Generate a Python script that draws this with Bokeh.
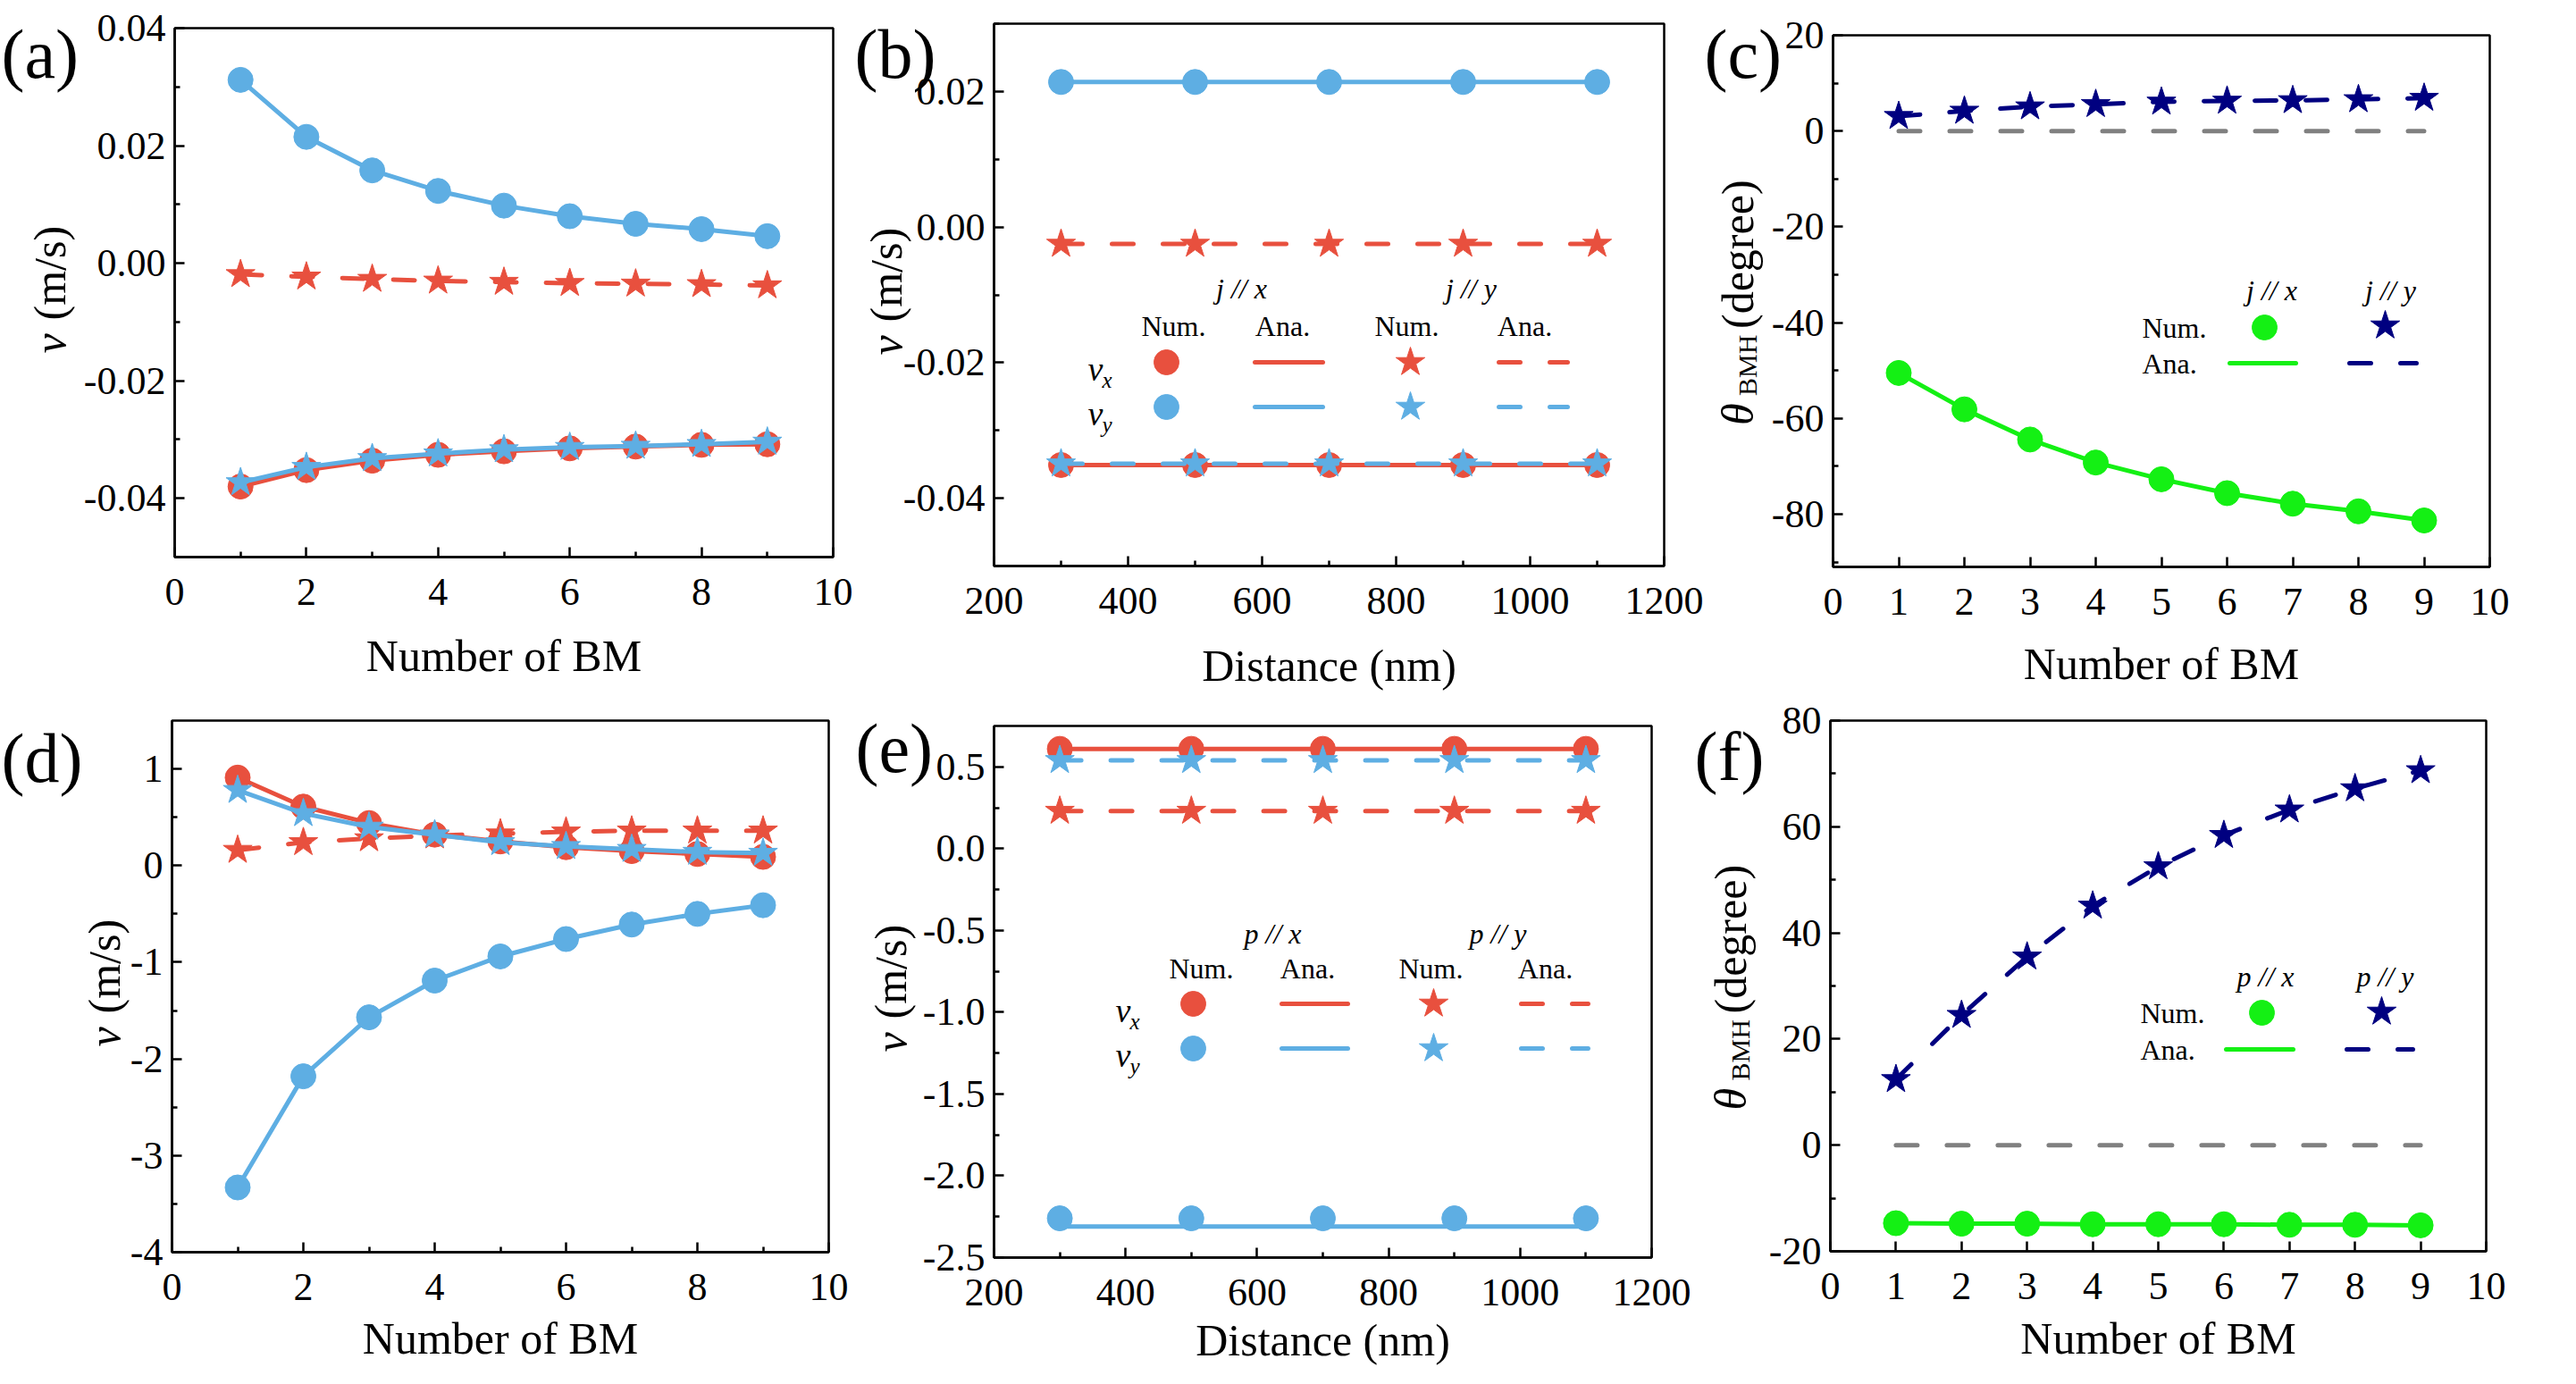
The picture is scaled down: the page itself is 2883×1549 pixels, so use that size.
from math import pi
from bokeh.plotting import figure
from bokeh.models import Range1d, FixedTicker, PrintfTickFormatter, Label, LinearAxis, BoxAnnotation
from bokeh.layouts import column, row
from bokeh.embed import file_html
from bokeh.resources import INLINE

FONT = "Liberation Serif"
RED = "#E8503E"
BLUE = "#5EAEE3"
GREEN = "#14F014"
NAVY = "#000080"
GRAY = "#808080"

# ---------------- data ----------------
n_bm = [1, 2, 3, 4, 5, 6, 7, 8, 9]
distance = [300, 500, 700, 900, 1100]

# (a) current-driven velocities vs number of BM
a_vx_jx = [-0.0380, -0.0352, -0.0336, -0.0326, -0.0320, -0.0315, -0.0312, -0.0309, -0.0308]
a_vy_jx = [0.0312, 0.0215, 0.0158, 0.0123, 0.0098, 0.0080, 0.0067, 0.0058, 0.0046]
a_vx_jy = [-0.0019, -0.0023, -0.0027, -0.0030, -0.0032, -0.0034, -0.0035, -0.0036, -0.0038]
a_vy_jy = [-0.0373, -0.0347, -0.0332, -0.0324, -0.0317, -0.0313, -0.0311, -0.0308, -0.0304]

# (b) current-driven velocities vs distance
b_vx_jx = [-0.0351, -0.0351, -0.0351, -0.0351, -0.0351]
b_vy_jx = [0.0214, 0.0214, 0.0214, 0.0214, 0.0214]
b_vx_jy = [-0.0025, -0.0025, -0.0025, -0.0025, -0.0025]
b_vy_jy = [-0.0349, -0.0349, -0.0349, -0.0349, -0.0349]

# (c) Hall angle (current)
c_theta_jx = [-50.5, -58.1, -64.4, -69.2, -72.7, -75.6, -77.8, -79.4, -81.3]
c_theta_jy = [3.1, 4.2, 5.1, 5.6, 6.1, 6.3, 6.4, 6.6, 6.9]
zero_ref = [0, 0, 0, 0, 0, 0, 0, 0, 0]

# (d) polarization-driven velocities vs number of BM
d_vx_px = [0.91, 0.61, 0.44, 0.32, 0.25, 0.19, 0.15, 0.12, 0.09]
d_vy_px = [-3.33, -2.18, -1.57, -1.19, -0.94, -0.76, -0.61, -0.50, -0.41]
d_vx_py = [0.16, 0.24, 0.28, 0.31, 0.33, 0.35, 0.36, 0.36, 0.36]
d_vy_py = [0.78, 0.54, 0.40, 0.32, 0.24, 0.20, 0.17, 0.14, 0.13]

# (e) polarization-driven velocities vs distance
e_vx_px = [0.61, 0.61, 0.61, 0.61, 0.61]
e_vy_px_num = [-2.26, -2.26, -2.26, -2.26, -2.26]
e_vy_px_ana = [-2.31, -2.31, -2.31, -2.31, -2.31]
e_vx_py = [0.23, 0.23, 0.23, 0.23, 0.23]
e_vy_py = [0.54, 0.54, 0.54, 0.54, 0.54]

# (f) Hall angle (polarization)
f_theta_px = [-14.7, -14.8, -14.8, -14.9, -14.9, -14.9, -15.0, -15.0, -15.1]
f_theta_py = [12.4, 24.5, 35.5, 45.1, 52.5, 58.4, 63.2, 67.2, 70.6]

# tick values
bm_ticks_even = [0, 2, 4, 6, 8, 10]
bm_minor_odd = [1, 3, 5, 7, 9]
bm_ticks_all = [0, 1, 2, 3, 4, 5, 6, 7, 8, 9, 10]
dist_ticks = [200, 400, 600, 800, 1000, 1200]
dist_minor = [300, 500, 700, 900, 1100]

DASH = "24 33"
SHIFT = 0.16   # baseline correction (fraction of font size) for alphabetic labels


def style_axis(ax):
    ax.axis_line_width = 2.5
    ax.axis_line_color = "black"
    ax.major_tick_in = 11
    ax.major_tick_out = 0
    ax.minor_tick_in = 6
    ax.minor_tick_out = 0
    ax.major_tick_line_width = 2.5
    ax.minor_tick_line_width = 2.5
    ax.major_label_text_font = FONT
    ax.major_label_text_font_size = "44px"
    ax.major_label_text_color = "black"


class Panel:
    def __init__(self, cell, box, xr, yr, xt, xmt, yt, ymt, xfmt, yfmt, xlabel, xlabel_off):
        cx, cy, cw, ch = cell
        L, R, T, B = box
        x0, x1 = xr
        y0, y1 = yr
        sx = (x1 - x0) / (R - L)
        sy = (y1 - y0) / (B - T)
        xa = x0 - (L - cx) * sx
        xb = x1 + (cx + cw - R) * sx
        ya = y0 - (cy + ch - B) * sy
        yb = y1 + (T - cy) * sy
        self.box = box
        self.frame = (cx, cx + cw, cy, cy + ch)
        self.rng = (xa, xb, ya, yb)
        p = figure(width=cw, height=ch, x_range=Range1d(xa, xb), y_range=Range1d(ya, yb),
                   x_axis_location=None, y_axis_location=None,
                   output_backend="svg", toolbar_location=None,
                   min_border_left=0, min_border_right=0, min_border_top=0, min_border_bottom=0)
        p.grid.visible = False
        p.outline_line_color = None
        p.background_fill_color = "white"
        p.border_fill_color = "white"

        xaxis = LinearAxis(fixed_location=y0, bounds=(x0, x1),
                           ticker=FixedTicker(ticks=xt, minor_ticks=xmt),
                           formatter=PrintfTickFormatter(format=xfmt))
        style_axis(xaxis)
        xaxis.major_label_standoff = 24
        p.add_layout(xaxis, "below")

        yaxis = LinearAxis(fixed_location=x0, bounds=(y0, y1),
                           ticker=FixedTicker(ticks=yt, minor_ticks=ymt),
                           formatter=PrintfTickFormatter(format=yfmt))
        style_axis(yaxis)
        yaxis.major_label_standoff = 10
        p.add_layout(yaxis, "left")

        p.add_layout(BoxAnnotation(left=x0, right=x1, bottom=y0, top=y1,
                                   fill_color=None, fill_alpha=0,
                                   line_color="black", line_alpha=1.0, line_width=2.5))
        self.p = p
        # x-axis title, centred under the box
        self.text((L + R) / 2, B + xlabel_off, xlabel, 50, align="center")

    def d(self, px, py):
        L, R, T, B = self.frame
        xa, xb, ya, yb = self.rng
        return xa + (px - L) / (R - L) * (xb - xa), yb - (py - T) / (B - T) * (yb - ya)

    def text(self, px, py, s, size, style="normal", align="left", baseline="alphabetic", angle=0.0):
        if baseline == "alphabetic":
            if angle == 0.0:
                py -= SHIFT * size
            else:
                px -= SHIFT * size
        x, y = self.d(px, py)
        self.p.add_layout(Label(x=x, y=y, text=s, text_font=FONT, text_font_size=f"{size}px",
                                text_font_style=style, text_align=align, text_baseline=baseline,
                                angle=angle, text_color="black"))

    def series(self, xs, ys, color, marker, dashed=False, ana=None):
        kw = dict(line_color=color, line_width=5)
        if dashed:
            kw.update(line_dash=DASH, line_cap="round")
        self.p.line(xs, ana if ana is not None else ys, **kw)
        size = 28 if marker == "circle" else 34
        self.p.scatter(xs, ys, marker=marker, size=size, fill_color=color, line_color=color, line_width=1)

    def leg_marker(self, px, py, color, marker):
        x, y = self.d(px, py)
        size = 28 if marker == "circle" else 34
        self.p.scatter([x], [y], marker=marker, size=size, fill_color=color, line_color=color, line_width=1)

    def leg_line(self, px0, px1, py, color, dashed=False):
        x0, y = self.d(px0, py)
        x1, _ = self.d(px1, py)
        kw = dict(line_color=color, line_width=5, line_cap="round")
        if dashed:
            kw.update(line_dash=DASH)
        self.p.line([x0, x1], [y, y], **kw)

    def vlabel(self, base_x, center_y):
        self.text(base_x, center_y + 68, "v", 50, style="italic", angle=pi / 2)
        self.text(base_x, center_y + 31, "(m/s)", 50, angle=pi / 2)

    def thlabel(self, base_x, center_y):
        self.text(base_x, center_y + 139, "\u03b8", 50, style="italic", angle=pi / 2)
        self.text(base_x + 8, center_y + 106, "BMH", 30, angle=pi / 2)
        self.text(base_x, center_y + 31, "(degree)", 50, angle=pi / 2)

    def vsym(self, px, py, sub):
        self.text(px, py + 14, "v", 38, style="italic")
        self.text(px + 16, py + 24, sub, 25, style="italic")


ROW1 = (8, 776)
ROW2 = (784, 757)

# ---------------- panel (a) ----------------
A = Panel((8, ROW1[0], 954, ROW1[1]), (203, 940, 39, 631), (0, 10), (-0.05, 0.04),
          bm_ticks_even, bm_minor_odd, [-0.04, -0.02, 0.0, 0.02, 0.04], [-0.05, -0.03, -0.01, 0.01, 0.03],
          "%d", "%.2f", "Number of BM", 118)
A.series(n_bm, a_vx_jx, RED, "circle")
A.series(n_bm, a_vy_jx, BLUE, "circle")
A.series(n_bm, a_vx_jy, RED, "star", dashed=True)
A.series(n_bm, a_vy_jy, BLUE, "star")
A.vlabel(71, 335)
A.text(9, 80, "(a)", 78)

# ---------------- panel (b) ----------------
Bp = Panel((962, ROW1[0], 952, ROW1[1]), (1120, 1870, 34, 641), (200, 1200), (-0.05, 0.03),
           dist_ticks, dist_minor, [-0.04, -0.02, 0.0, 0.02], [-0.05, -0.03, -0.01, 0.01, 0.03],
           "%d", "%.2f", "Distance (nm)", 119)
Bp.series(distance, b_vx_jx, RED, "circle")
Bp.series(distance, b_vy_jx, BLUE, "circle")
Bp.series(distance, b_vx_jy, RED, "star", dashed=True)
Bp.series(distance, b_vy_jy, BLUE, "star", dashed=True)
Bp.vlabel(1007, 337)
Bp.text(964, 80, "(b)", 78)
Bp.text(1397, 330, "j // x", 32, style="italic", align="center", baseline="middle")
Bp.text(1654, 330, "j // y", 32, style="italic", align="center", baseline="middle")
for cxp, s in ((1321, "Num."), (1443, "Ana."), (1582, "Num."), (1714, "Ana.")):
    Bp.text(cxp, 372, s, 32, align="center", baseline="middle")
for ry, col, sub in ((413, RED, "x"), (463, BLUE, "y")):
    Bp.vsym(1225, ry, sub)
    Bp.leg_marker(1313, ry, col, "circle")
    Bp.leg_line(1412, 1488, ry, col)
    Bp.leg_marker(1586, ry, col, "star")
    Bp.leg_line(1685, 1762, ry, col, dashed=True)

# ---------------- panel (c) ----------------
C = Panel((1914, ROW1[0], 961, ROW1[1]), (2059, 2794, 47, 642), (0, 10), (-91, 20),
          bm_ticks_all, [], [20, 0, -20, -40, -60, -80], [10, -10, -30, -50, -70, -90],
          "%d", "%d", "Number of BM", 116)
C.p.line(n_bm, zero_ref, line_color=GRAY, line_width=5, line_dash=DASH, line_cap="round")
C.series(n_bm, c_theta_jy, NAVY, "star", dashed=True)
C.series(n_bm, c_theta_jx, GREEN, "circle")
C.thlabel(1960, 344.5)
C.text(1915, 80, "(c)", 78)
C.text(2550, 332, "j // x", 32, style="italic", align="center", baseline="middle")
C.text(2683, 332, "j // y", 32, style="italic", align="center", baseline="middle")
C.text(2405, 374, "Num.", 32, baseline="middle")
C.text(2405, 414, "Ana.", 32, baseline="middle")
C.leg_marker(2542, 374, GREEN, "circle")
C.leg_marker(2677, 372, NAVY, "star")
C.leg_line(2503, 2577, 414, GREEN)
C.leg_line(2637, 2712, 414, NAVY, dashed=True)

# ---------------- panel (d) ----------------
D = Panel((8, ROW2[0], 950, ROW2[1]), (200, 935, 814, 1409), (0, 10), (-4, 1.5),
          bm_ticks_even, bm_minor_odd, [-4, -3, -2, -1, 0, 1], [-3.5, -2.5, -1.5, -0.5, 0.5],
          "%d", "%d", "Number of BM", 104)
D.series(n_bm, d_vx_px, RED, "circle")
D.series(n_bm, d_vy_px, BLUE, "circle")
D.series(n_bm, d_vx_py, RED, "star", dashed=True)
D.series(n_bm, d_vy_py, BLUE, "star")
D.vlabel(132, 1111)
D.text(9, 868, "(d)", 78)

# ---------------- panel (e) ----------------
E = Panel((958, ROW2[0], 944, ROW2[1]), (1120, 1856, 820, 1415), (200, 1200), (-2.5, 0.75),
          dist_ticks, dist_minor, [-2.5, -2.0, -1.5, -1.0, -0.5, 0.0, 0.5],
          [-2.25, -1.75, -1.25, -0.75, -0.25, 0.25],
          "%d", "%.1f", "Distance (nm)", 100)
E.series(distance, e_vx_px, RED, "circle")
E.series(distance, e_vy_px_num, BLUE, "circle", ana=e_vy_px_ana)
E.series(distance, e_vx_py, RED, "star", dashed=True)
E.series(distance, e_vy_py, BLUE, "star", dashed=True)
E.vlabel(1012, 1117)
E.text(965, 857, "(e)", 78)
E.text(1432, 1052, "p // x", 32, style="italic", align="center", baseline="middle")
E.text(1684, 1052, "p // y", 32, style="italic", align="center", baseline="middle")
for cxp, s in ((1352, "Num."), (1471, "Ana."), (1609, "Num."), (1737, "Ana.")):
    E.text(cxp, 1091, s, 32, align="center", baseline="middle")
for ry, col, sub in ((1131, RED, "x"), (1181, BLUE, "y")):
    E.vsym(1256, ry, sub)
    E.leg_marker(1343, ry, col, "circle")
    E.leg_line(1442, 1516, ry, col)
    E.leg_marker(1612, ry, col, "star")
    E.leg_line(1710, 1785, ry, col, dashed=True)

# ---------------- panel (f) ----------------
F = Panel((1902, ROW2[0], 973, ROW2[1]), (2056, 2790, 814, 1408), (0, 10), (-20, 80),
          bm_ticks_all, [], [-20, 0, 20, 40, 60, 80], [-10, 10, 30, 50, 70],
          "%d", "%d", "Number of BM", 105)
F.p.line(n_bm, zero_ref, line_color=GRAY, line_width=5, line_dash=DASH, line_cap="round")
F.series(n_bm, f_theta_py, NAVY, "star", dashed=True)
F.series(n_bm, f_theta_px, GREEN, "circle")
F.thlabel(1952, 1111)
F.text(1904, 866, "(f)", 78)
F.text(2543, 1100, "p // x", 32, style="italic", align="center", baseline="middle")
F.text(2677, 1100, "p // y", 32, style="italic", align="center", baseline="middle")
F.text(2403, 1141, "Num.", 32, baseline="middle")
F.text(2403, 1182, "Ana.", 32, baseline="middle")
F.leg_marker(2539, 1141, GREEN, "circle")
F.leg_marker(2673, 1140, NAVY, "star")
F.leg_line(2499, 2574, 1182, GREEN)
F.leg_line(2634, 2708, 1182, NAVY, dashed=True)

layout = column(row(A.p, Bp.p, C.p), row(D.p, E.p, F.p))
open("out.html", "w").write(file_html(layout, INLINE, title="BM velocities"))
